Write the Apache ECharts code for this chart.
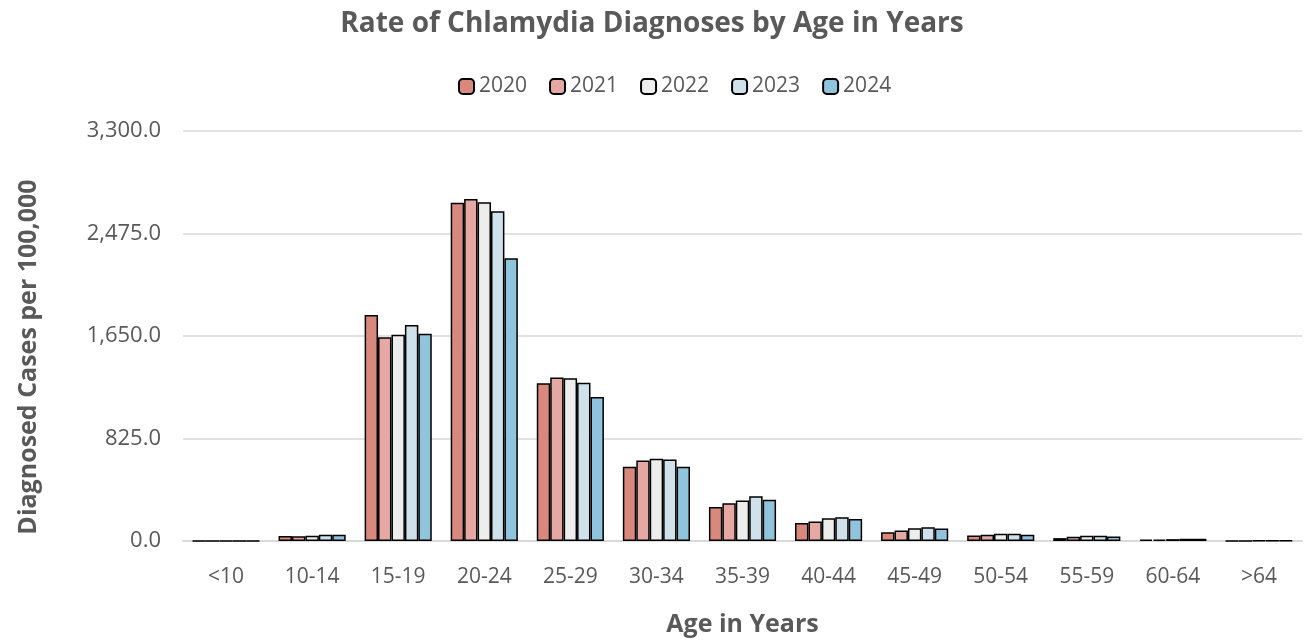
<!DOCTYPE html>
<html><head><meta charset="utf-8">
<script src="https://cdn.jsdelivr.net/npm/echarts@6/dist/echarts.min.js"></script>
<style>html,body{margin:0;padding:0;background:#fff}#c{width:1304px;height:643px}</style>
</head><body><div id="c"></div>
<script>
const categories = ['<10','10-14','15-19','20-24','25-29','30-34','35-39','40-44','45-49','50-54','55-59','60-64','>64'];
const years = ['2020','2021','2022','2023','2024'];
const v2020 = [1, 40, 1819, 2723, 1269, 598, 274, 145, 71, 44, 23, 12, 2];
const v2021 = [1, 38, 1640, 2753, 1315, 647, 303, 156, 85, 50, 34, 12, 2];
const v2022 = [1, 42, 1661, 2727, 1310, 663, 325, 183, 103, 58, 42, 15, 3];
const v2023 = [1, 50, 1739, 2654, 1274, 655, 360, 191, 111, 58, 42, 18, 3];
const v2024 = [1, 50, 1669, 2276, 1159, 598, 333, 177, 101, 50, 36, 18, 3];
const seriesValues = [v2020, v2021, v2022, v2023, v2024];
const colors = ['#D9887D', '#E6A8A2', '#EDEDED', '#CFE2EC', '#90C3DC'];
const yTicks = [0, 825, 1650, 2475, 3300];

const font = '"Open Sans", sans-serif';
const chart = echarts.init(document.getElementById('c'));
chart.setOption({
  animation: false,
  title: {
    text: 'Rate of Chlamydia Diagnoses by Age in Years',
    left: 'center', top: 5,
    textStyle: {fontFamily: font, fontSize: 28, fontWeight: 'bold', color: '#595959'}
  },
  legend: {
    top: 71, left: 453, itemWidth: 15, itemHeight: 15, itemGap: 22,
    textStyle: {fontFamily: font, fontSize: 21, color: '#595959'},
    data: years
  },
  grid: {left: 183, right: 2, top: 131, bottom: 102, outerBoundsMode: 'none', containLabel: false},
  xAxis: {
    type: 'category', data: categories,
    name: 'Age in Years', nameLocation: 'middle', nameGap: 71,
    nameTextStyle: {fontFamily: font, fontSize: 25, fontWeight: 'bold', color: '#595959'},
    axisLine: {lineStyle: {color: '#D9D9D9', width: 2}},
    axisTick: {show: false},
    axisLabel: {fontFamily: font, fontSize: 21, color: '#595959', margin: 26}
  },
  yAxis: {
    type: 'value', min: yTicks[0], max: yTicks[yTicks.length-1], interval: 825,
    name: 'Diagnosed Cases per 100,000', nameLocation: 'middle', nameGap: 142,
    nameTextStyle: {fontFamily: font, fontSize: 25, fontWeight: 'bold', color: '#595959', padding: [0, 42, 0, 0]},
    axisLine: {show: false}, axisTick: {show: false},
    splitLine: {lineStyle: {color: '#D9D9D9', width: 1.5}},
    axisLabel: {fontFamily: font, fontSize: 22, color: '#595959', margin: 22,
      formatter: v => v.toLocaleString('en-US', {minimumFractionDigits: 1, maximumFractionDigits: 1})}
  },
  series: years.map((y, i) => ({
    name: y, type: 'bar', data: seriesValues[i],
    barGap: '0%', barCategoryGap: '22%',
    itemStyle: {color: colors[i], borderColor: '#000', borderWidth: 1.5}
  }))
});
</script></body></html>
